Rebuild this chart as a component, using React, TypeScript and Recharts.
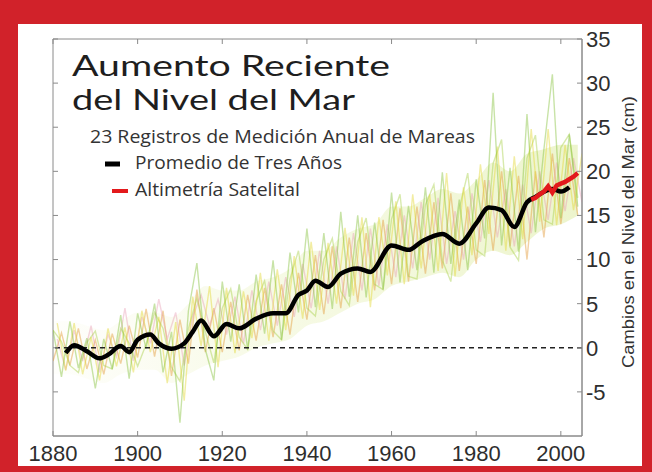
import React from "react";
import { ComposedChart, Line, Area, XAxis, YAxis, ReferenceLine, ReferenceArea } from "recharts";

// ---- data ----
const xTicks = [1880, 1900, 1920, 1940, 1960, 1980, 2000];
const yTicks = [-5, 0, 5, 10, 15, 20, 25, 30, 35];

// three-year running mean (black)
const avgYears = [1883, 1885, 1888, 1891, 1893, 1896, 1898, 1900, 1903, 1905, 1908, 1911, 1913, 1915, 1918, 1921, 1924, 1928, 1932, 1935, 1938, 1940, 1942, 1945, 1948, 1952, 1955, 1960, 1964, 1967, 1972, 1976, 1980, 1983, 1986, 1989, 1992, 1994, 1998, 2000, 2002];
const avgValues = [-0.6, 0.3, -0.4, -1.2, -0.8, 0.2, -0.5, 0.9, 1.5, 0.5, -0.1, 0.5, 1.8, 3.1, 1.3, 2.7, 2.2, 3.3, 3.9, 3.9, 6.0, 6.5, 7.6, 6.9, 8.4, 9.0, 8.6, 11.6, 11.1, 12.0, 12.9, 11.8, 14.1, 15.9, 15.6, 13.7, 16.5, 17.1, 18.0, 17.7, 18.2];

// satellite altimetry (red)
const satYears = [1993, 1994, 1995, 1996, 1997, 1998, 1999, 2000, 2001, 2002, 2003, 2004];
const satValues = [16.8, 17.0, 17.4, 17.7, 18.3, 17.6, 18.4, 18.6, 18.8, 19.1, 19.4, 19.8];

// individual tide-gauge records (faint), two-year steps
const recAStart = 1880;
const recAValues = [2, -3.3, 3, -2.3, 1.1, -4.6, 1, -2.4, 3.7, -3.5, 3.9, -0.1, 5, -2.8, 1.8, -8.5, 4.2, 9.6, -0.2, -3.7, 7.5, 0.7, 7.2, -0.2, 8.3, 1.6, 9.9, 0.9, 10.8, 4, 13.5, 4.6, 13, 4.4, 15.4, 5.8, 15, 5.7, 14.2, 6.6, 17.6, 7.4, 16.1, 8.8, 18.2, 8.5, 19.9, 9.5, 16.8, 8.8, 19.1, 12.4, 28.9, 11.6, 20.4, 10.9, 26.5, 13.1, 22.5, 31, 14.7, 24.2, 16];
const recBStart = 1881;
const recBValues = [2.8, -2.6, 2.8, -3, 1.2, -3.7, 2.2, -2.1, 2.3, -2.8, 4.2, -0.5, 3.5, -4, 2.9, -6, 5.8, 0.2, 7, -2.2, 6.8, -0.6, 6.4, 1.1, 8.5, 0.8, 8.9, 2, 10.4, 3.3, 12, 4.3, 11.9, 5, 13.6, 5.9, 14.8, 4.6, 14.8, 8.2, 16.6, 7.2, 17.4, 9, 17.4, 8.7, 19.8, 8.1, 18.2, 10.5, 20.8, 12.9, 22.8, 11, 21.7, 12.3, 24.8, 14.3, 24.8, 13.9, 23, 15.6, 22];
const recCStart = 1880;
const recCValues = [-1.5, 1.7, -2, 2.2, -2.4, 0.9, -3, 1.6, -1.8, 2.5, -1.1, 4.4, -1, 4.2, -3.2, 3.2, -1.8, 6.6, -0.5, 4.5, -0.5, 5.2, -0.3, 6, 0.8, 6.8, 1.2, 7.2, 1.5, 8.5, 3.2, 10.5, 3.8, 11.5, 4.5, 12.5, 5.2, 13, 6.5, 14.5, 7.2, 15.8, 7.5, 16, 8.4, 16.5, 9, 17.5, 8.7, 16, 9.5, 19, 11, 20, 11.5, 19.5, 10, 20, 12.5, 22, 14, 21.5, 15];
const recDStart = 1881;
const recDValues = [1, -2.5, 2, -1.5, 2.5, -2.8, 1.5, -1, 4.5, -1.5, 3.5, 0.5, 5.5, 1, 4, -2, 3.5, 6, 2.5, 5.5, 1.5, 5.8, 0.5, 6.5, 2, 7.5, 2.5, 8, 3.5, 9.5, 4.5, 11, 5, 11.5, 5.5, 13, 6.5, 13.5, 7, 14, 8, 15, 9, 16.5, 10, 17, 9.5, 15.5, 10, 17.5, 12, 19, 12.5, 18, 11.5, 18.5, 13, 20, 14.5, 21, 15.5, 21.5, 16.5];
const recEStart = 1880;
const recEValues = [2, 0.7, -2, -2.8, 0.6, 1.9, -2, -2.4, 2.2, 0.5, -2.1, 0.4, 4, 2.2, -2.2, -3.8, 2.2, 5.6, 1.8, -1.7, 4.5, 6.7, 1.2, -0.2, 5.3, 7.6, 1.9, 0.9, 7.8, 11, 4.5, 3.6, 10, 12.4, 6.4, 4.8, 12, 14.7, 7.2, 6.6, 14.6, 17.4, 8.1, 7.8, 16.2, 18.5, 9.9, 7.5, 15.8, 19.8, 11.1, 10.4, 20.9, 23.6, 11.4, 9.9, 21.5, 24.1, 14.5, 14, 22.7, 24.2, 17];

// dense spread of the records (haze)
const hazeYears = [1880, 1884, 1888, 1892, 1896, 1900, 1904, 1908, 1912, 1916, 1920, 1924, 1928, 1932, 1936, 1940, 1944, 1948, 1952, 1956, 1960, 1964, 1968, 1972, 1976, 1980, 1984, 1988, 1992, 1996, 2000, 2004];
const hazeLow = [-3, -3, -3.5, -4, -3, -2.5, -2.5, -4, -3, -2, -1.5, -1, 0, 0.5, 1, 2.5, 3, 4, 5, 5.5, 7, 7.5, 8, 8.5, 8, 10, 11, 10.5, 12, 13.5, 14, 15];
const hazeHigh = [3, 3, 2.5, 2, 3, 4, 4, 3.5, 5, 7, 6.5, 6.5, 7.5, 8, 9, 11, 11, 12.5, 13.5, 14, 16, 16, 17, 18, 17.5, 19, 21, 20, 22, 22.5, 23, 23];

// ---- layout ----
const W = 652;
const H = 472;
const PLOT_LEFT = 53;
const PLOT_RIGHT = 582;
const PLOT_TOP = 39;
const PLOT_BOTTOM = 436;
const X_AXIS_H = 30;
const Y_AXIS_W = 50;
const AXIS_COLOR = "#8a8a8a";
const TEXT_COLOR = "#2e2e2e";

const avgData = avgYears.map((year, i) => ({ year, v: avgValues[i] }));
const satData = satYears.map((year, i) => ({ year, v: satValues[i] }));
const toRec = (start: number, vals: number[]) => vals.map((v, i) => ({ year: start + 2 * i, v }));
const recA = toRec(recAStart, recAValues);
const recB = toRec(recBStart, recBValues);
const recC = toRec(recCStart, recCValues);
const recD = toRec(recDStart, recDValues);
const recE = toRec(recEStart, recEValues);
const hazeData = hazeYears.map((year, i) => ({ year, range: [hazeLow[i], hazeHigh[i]] }));

const BottomTick = (props: any) => {
  const { x, payload } = props;
  return (
    <g>
      <line x1={x} x2={x} y1={PLOT_BOTTOM} y2={PLOT_BOTTOM - 5} stroke={AXIS_COLOR} />
      <line x1={x} x2={x} y1={PLOT_TOP} y2={PLOT_TOP + 5} stroke={AXIS_COLOR} />
      <text x={x} y={PLOT_BOTTOM + 25} textAnchor="middle" fontFamily="'Liberation Sans', Arial, sans-serif" fontSize={22} fill={TEXT_COLOR}>
        {payload.value}
      </text>
    </g>
  );
};

const RightTick = (props: any) => {
  const { y, payload } = props;
  return (
    <g>
      <line x1={PLOT_RIGHT} x2={PLOT_RIGHT - 5} y1={y} y2={y} stroke={AXIS_COLOR} />
      <line x1={PLOT_LEFT} x2={PLOT_LEFT + 5} y1={y} y2={y} stroke={AXIS_COLOR} />
      <text x={PLOT_RIGHT + 4} y={y} dy="0.36em" textAnchor="start" fontFamily="'Liberation Sans', Arial, sans-serif" fontSize={22} fill={TEXT_COLOR}>
        {payload.value}
      </text>
    </g>
  );
};

const recStyle = { dot: false, isAnimationActive: false, type: "linear" as const, strokeWidth: 1.4, strokeOpacity: 0.45 };

export default function App() {
  return (
    <div style={{ position: "absolute", left: 0, top: 0, width: W, height: H, background: "#d1222a" }}>
      <div style={{ position: "absolute", left: 18, top: 24, width: 624, height: 442, background: "#ffffff" }} />
      <div style={{ position: "absolute", left: 0, top: 0 }}>
        <ComposedChart
          width={W}
          height={H}
          margin={{ top: PLOT_TOP, left: PLOT_LEFT, right: W - PLOT_RIGHT - Y_AXIS_W, bottom: H - PLOT_BOTTOM - X_AXIS_H }}
        >
          <defs>
            <linearGradient id="hazeGrad" x1="0" y1="0" x2="1" y2="0">
              <stop offset="0%" stopColor="#dfe27a" stopOpacity={0.05} />
              <stop offset="40%" stopColor="#cadf5c" stopOpacity={0.25} />
              <stop offset="100%" stopColor="#bcd845" stopOpacity={0.45} />
            </linearGradient>
          </defs>
          <XAxis
            dataKey="year"
            type="number"
            domain={[1880, 2005]}
            ticks={xTicks}
            height={X_AXIS_H}
            axisLine={{ stroke: AXIS_COLOR }}
            tickLine={false}
            tickSize={0}
            tick={<BottomTick />}
            allowDataOverflow
          />
          <YAxis
            type="number"
            orientation="right"
            domain={[-10, 35]}
            ticks={yTicks}
            width={Y_AXIS_W}
            axisLine={{ stroke: AXIS_COLOR }}
            tickLine={false}
            tickSize={0}
            tick={<RightTick />}
            allowDataOverflow
          />
          <Area data={hazeData} dataKey="range" type="monotone" stroke="none" fill="url(#hazeGrad)" isAnimationActive={false} />
          <Line data={recC} dataKey="v" stroke="#e39a36" {...recStyle} />
          <Line data={recD} dataKey="v" stroke="#e597b0" {...recStyle} strokeOpacity={0.4} />
          <Line data={recE} dataKey="v" stroke="#a8d04a" {...recStyle} />
          <Line data={recB} dataKey="v" stroke="#e2d832" {...recStyle} />
          <Line data={recA} dataKey="v" stroke="#86c23c" {...recStyle} />
          <ReferenceLine y={0} stroke="#222" strokeWidth={1.5} strokeDasharray="5 4" />
          <ReferenceArea x1={1880} x2={2005} y1={-10} y2={35} fill="none" stroke={AXIS_COLOR} strokeWidth={1} />
          <Line data={avgData} dataKey="v" type="monotone" stroke="#000" strokeWidth={4.5} dot={false} isAnimationActive={false} />
          <Line data={satData} dataKey="v" type="linear" stroke="#e3191c" strokeWidth={4.5} dot={false} isAnimationActive={false} />
        </ComposedChart>
      </div>
      <svg width={W} height={H} style={{ position: "absolute", left: 0, top: 0, pointerEvents: "none" }}>
        <g fontFamily="Lato, 'Open Sans', sans-serif" fill="#1e1e1e">
          <text x={72} y={76} fontSize={28} textLength={318} lengthAdjust="spacingAndGlyphs">Aumento Reciente</text>
          <text x={72} y={110} fontSize={28} textLength={283} lengthAdjust="spacingAndGlyphs">del Nivel del Mar</text>
        </g>
        <g fontFamily="'Open Sans', 'Noto Sans', sans-serif" fill="#333">
          <text x={90} y={143} fontSize={18.5} textLength={385} lengthAdjust="spacingAndGlyphs">23 Registros de Medición Anual de Mareas</text>
          <line x1={105} x2={120} y1={164} y2={164} stroke="#000" strokeWidth={5} />
          <text x={135} y={169} fontSize={18} textLength={207} lengthAdjust="spacingAndGlyphs">Promedio de Tres Años</text>
          <line x1={112} x2={128} y1={191} y2={191} stroke="#e3191c" strokeWidth={4} />
          <text x={135} y={196} fontSize={18} textLength={165} lengthAdjust="spacingAndGlyphs">Altimetría Satelital</text>
        </g>
        <text
          x={628}
          y={232}
          transform="rotate(-90 628 232)"
          textAnchor="middle"
          dy="0.35em"
          fontFamily="'Liberation Sans', Arial, sans-serif"
          fontSize={16.5}
          fill="#333"
          textLength={272}
          lengthAdjust="spacingAndGlyphs"
        >
          Cambios en el Nivel del Mar (cm)
        </text>
      </svg>
    </div>
  );
}
